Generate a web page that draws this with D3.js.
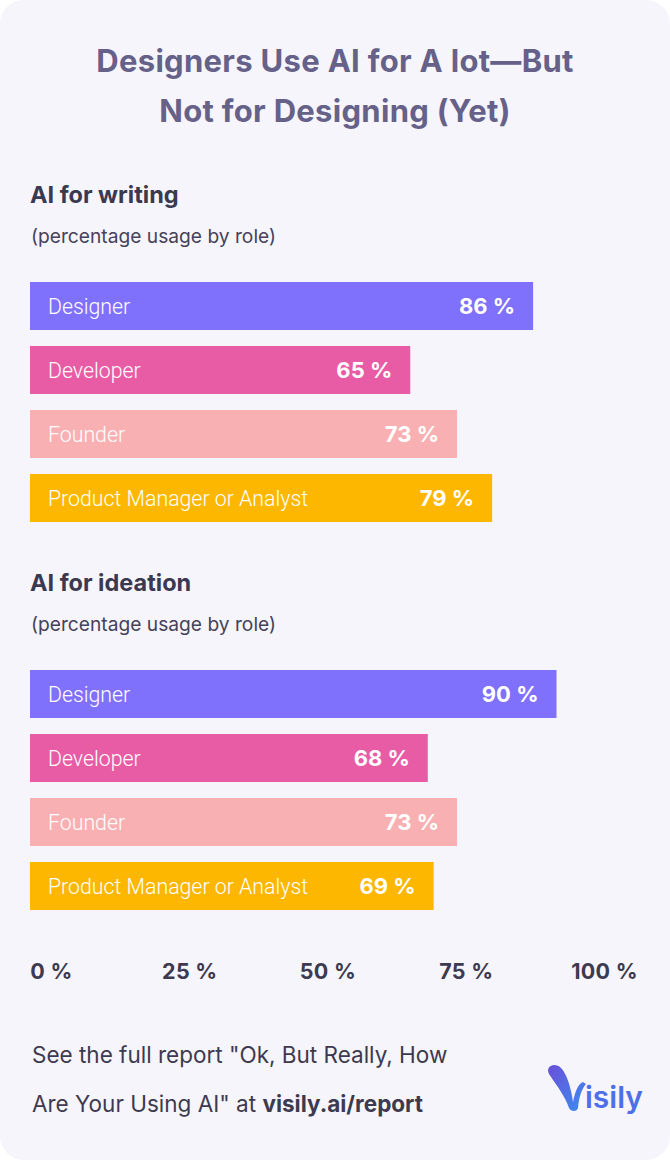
<!DOCTYPE html>
<html>
<head>
<meta charset="utf-8">
<script src="https://cdn.jsdelivr.net/npm/d3@7"></script>
<style>
  html, body { margin: 0; padding: 0; background: #ffffff; }
  svg { display: block; }
</style>
</head>
<body>
<svg id="chart" width="670" height="1160"></svg>
<script>
// ---- data ----
const roles = ["Designer", "Developer", "Founder", "Product Manager or Analyst"];
const writingValues = [86, 65, 73, 79];
const ideationValues = [90, 68, 73, 69];
const sections = ["AI for writing", "AI for ideation"];
const subtitle = "(percentage usage by role)";
const axisTicks = [0, 25, 50, 75, 100];
const titleLines = ["Designers Use AI for A lot\u2014But", "Not for Designing (Yet)"];
const roleColors = ["#8071fc", "#e85ca5", "#f9b0b2", "#fdb700"];

const W = 670, H = 1160;
const svg = d3.select("#chart");
const font = "Inter, 'Noto Sans', sans-serif";

// card background
svg.append("rect").attr("x", 0).attr("y", 0).attr("width", W).attr("height", H)
  .attr("rx", 24).attr("fill", "#f6f5fb");

// title
svg.append("g").selectAll("text").data(titleLines).join("text")
  .attr("x", W / 2).attr("y", (d, i) => 72 + i * 50)
  .attr("text-anchor", "middle")
  .attr("font-family", font).attr("font-weight", 700).attr("font-size", 31)
  .attr("letter-spacing", 0.3)
  .attr("fill", "#666188").text(d => d);

// scales
const x = d3.scaleLinear().domain([0, 100]).range([30, 615]);
const y = d3.scaleBand().domain(roles).range([0, 240]).paddingInner(0.25).paddingOuter(0);

const groups = [
  { name: sections[0], values: writingValues, top: 203 },
  { name: sections[1], values: ideationValues, top: 591 }
];

groups.forEach(gd => {
  const g = svg.append("g");
  g.append("text").attr("x", 30).attr("y", gd.top)
    .attr("font-family", font).attr("font-weight", 700).attr("font-size", 23.5)
    .attr("fill", "#3b3950").text(gd.name);
  g.append("text").attr("x", 31).attr("y", gd.top + 40)
    .attr("font-family", font).attr("font-weight", 400).attr("font-size", 19.2)
    .attr("fill", "#45425a").text(subtitle);

  const bars = g.append("g").attr("transform", `translate(0,${gd.top + 79})`);
  const data = roles.map((r, i) => ({ role: r, value: gd.values[i], color: roleColors[i] }));
  bars.selectAll("rect").data(data).join("rect")
    .attr("x", x(0)).attr("y", d => y(d.role))
    .attr("width", d => x(d.value) - x(0)).attr("height", y.bandwidth())
    .attr("fill", d => d.color);
  bars.selectAll("text.role").data(data).join("text").attr("class", "role")
    .attr("x", x(0) + 18).attr("y", d => y(d.role) + y.bandwidth() / 2 + 7.5)
    .attr("font-family", "Roboto, Inter, sans-serif").attr("font-weight", 300).attr("font-size", 21.3)
    .attr("fill", "#ffffff").text(d => d.role);
  bars.selectAll("text.val").data(data).join("text").attr("class", "val")
    .attr("x", d => x(d.value) - 18).attr("y", d => y(d.role) + y.bandwidth() / 2 + 8)
    .attr("text-anchor", "end")
    .attr("font-family", font).attr("font-weight", 700).attr("font-size", 22)
    .attr("fill", "#ffffff").text(d => d.value + " %");
});

// axis labels (spread across the card width)
const xAxisLabels = d3.scaleLinear().domain([0, 100]).range([51, 604]);
const axis = d3.axisBottom(xAxisLabels).tickValues(axisTicks).tickSize(0).tickPadding(0)
  .tickFormat(d => d + " %");
const ax = svg.append("g").attr("transform", "translate(0,960)").call(axis);
ax.select(".domain").remove();
ax.selectAll("text")
  .attr("font-family", font).attr("font-weight", 700).attr("font-size", 21.5)
  .attr("letter-spacing", 0.3)
  .attr("fill", "#3d3a50").attr("dy", "0.9em");

// footer
svg.append("text").attr("x", 32).attr("y", 1063)
  .attr("font-family", font).attr("font-weight", 400).attr("font-size", 22.5)
  .attr("fill", "#3d3a50").text("See the full report \"Ok, But Really, How");
const f2 = svg.append("text").attr("x", 32).attr("y", 1112)
  .attr("font-family", font).attr("font-size", 22.5).attr("fill", "#3d3a50");
f2.append("tspan").attr("font-weight", 400).text("Are Your Using AI\" at ");
f2.append("tspan").attr("font-weight", 700).text("visily.ai/report");

// logo
const defs = svg.append("defs");
const grad = defs.append("linearGradient").attr("id", "logoGrad")
  .attr("x1", "0").attr("y1", "0").attr("x2", "1").attr("y2", "1");
grad.append("stop").attr("offset", "0").attr("stop-color", "#6a4fd8");
grad.append("stop").attr("offset", "1").attr("stop-color", "#3a8ef0");
const logo = svg.append("g").attr("transform", "translate(545,1068)");
logo.append("path")
  .attr("d", "M4,6 C0,-2 10,-6 16,0 C22,6 26,20 28,34 C30,24 33,16 38,14 L41,16 C36,22 34,30 33,40 C32,44 26,44 24,40 C20,28 12,18 4,6 Z")
  .attr("fill", "url(#logoGrad)");
logo.append("text").attr("x", 40).attr("y", 40)
  .attr("font-family", font).attr("font-weight", 600).attr("font-size", 30)
  .attr("fill", "#4f6fe8").text("isily");
</script>
</body>
</html>
